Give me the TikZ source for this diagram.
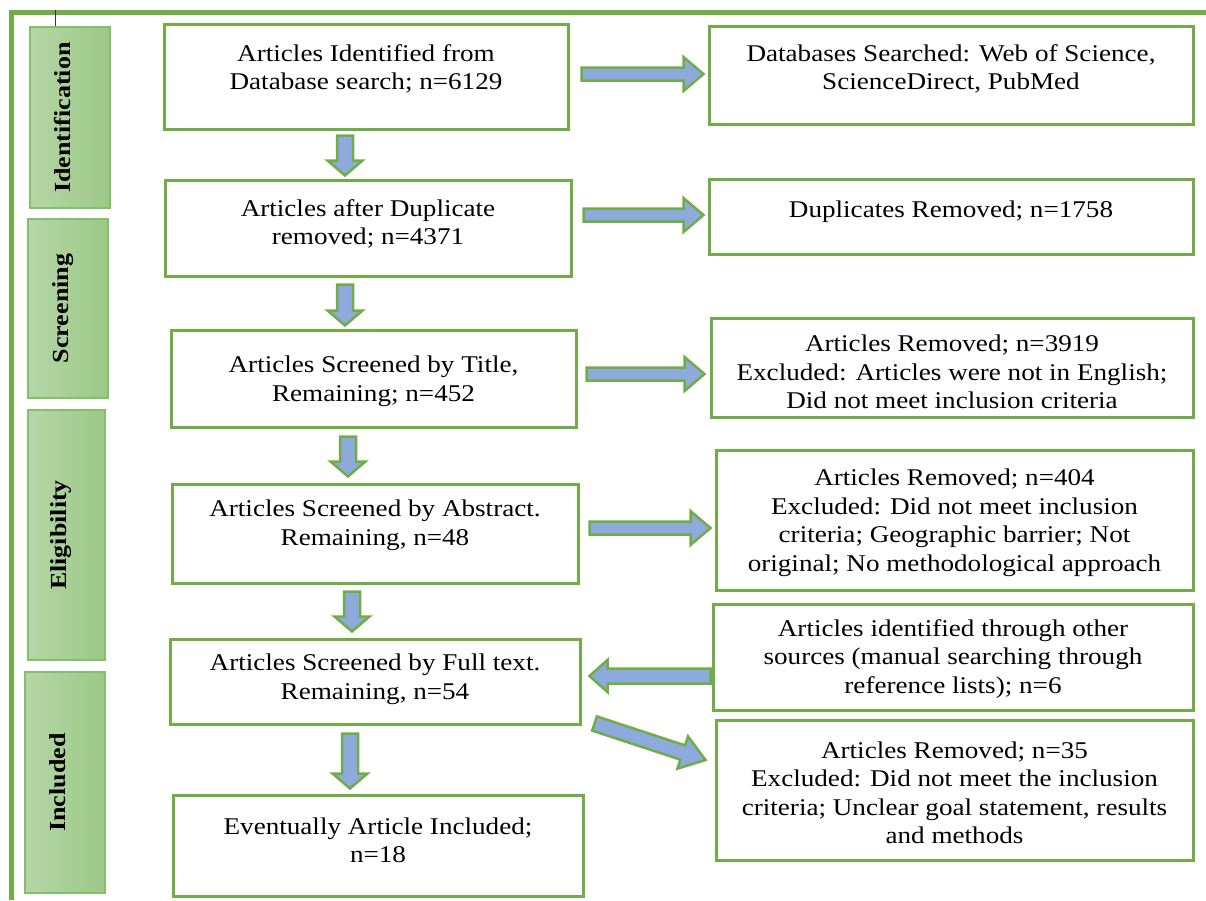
\documentclass[tikz,border=0pt]{standalone}
\usepackage{fontspec}
\setmainfont[FakeStretch=1.13]{Liberation Serif}
\usetikzlibrary{calc}
\definecolor{pgreen}{HTML}{70AD47}
\definecolor{pblue}{HTML}{8EA9DB}
\definecolor{lgreenA}{HTML}{B5D6A7}
\definecolor{lgreenB}{HTML}{9CC886}
\definecolor{lborder}{HTML}{84BF6B}
\definecolor{tickc}{HTML}{3A3040}
% #1 body half width, #2 head half width, #3 head length, #4 start, #5 end
\newcommand\blockarrow[5]{%
  \coordinate (ba-a) at #4; \coordinate (ba-b) at #5;
  \coordinate (ba-n) at ($(ba-b)!#3!(ba-a)$);
  \draw[flowarrow] ($(ba-a)!#1!90:(ba-b)$) -- ($(ba-n)!#1!90:(ba-b)$) -- ($(ba-n)!#2!90:(ba-b)$) -- (ba-b) -- ($(ba-n)!#2!-90:(ba-b)$) -- ($(ba-n)!#1!-90:(ba-b)$) -- ($(ba-a)!#1!-90:(ba-b)$) -- cycle;}
\tikzset{
  flowbox/.style={draw=pgreen, line width=3pt, fill=white, inner sep=0pt},
  txt/.style={align=center, font=\fontsize{24}{28.5}\selectfont, inner sep=0pt, yshift=-2.5pt},
  sidebox/.style={draw=lborder, line width=1.5pt, left color=lgreenA, right color=lgreenB, inner sep=0pt},
  sidetxt/.style={rotate=90, anchor=base, font=\fontsize{23}{27}\selectfont\bfseries, inner sep=0pt},
  flowarrow/.style={draw=pgreen, fill=pblue, line width=2.5pt, line join=miter},
  outerframe/.style={draw=pgreen, line width=5pt},
}
\begin{document}
\begin{tikzpicture}[x=1pt, y=-1pt]
\useasboundingbox (0,0) rectangle (1206,900);
% frame
\draw[outerframe] (11,900) -- (11,12.5) -- (1206,12.5);
\draw[tickc, line width=1.5pt] (55.5,10) -- (55.5,35);
% side labels
\node[sidebox, minimum width=80pt, minimum height=181pt] (s1) at (70,117.5) {};
\node[sidebox, minimum width=80pt, minimum height=179pt] (s2) at (68,308.5) {};
\node[sidebox, minimum width=77pt, minimum height=250pt] (s3) at (66.5,535) {};
\node[sidebox, minimum width=80pt, minimum height=221pt] (s4) at (65,782.5) {};
\node[sidetxt] (s1t) at (s1.center) {Identification};
\node[sidetxt] (s2t) at (s2.center) {Screening};
\node[sidetxt] (s3t) at (s3.center) {Eligibility};
\node[sidetxt] (s4t) at (s4.center) {Included};
% left boxes
\node[flowbox, minimum width=404pt, minimum height=105pt] (b1) at (366,76.5) {};
\node[flowbox, minimum width=406pt, minimum height=96pt] (b2) at (368,228) {};
\node[flowbox, minimum width=405pt, minimum height=97pt] (b3) at (373.5,378.5) {};
\node[flowbox, minimum width=406pt, minimum height=99pt] (b4) at (375,533.5) {};
\node[flowbox, minimum width=410pt, minimum height=85pt] (b5) at (375,681.5) {};
\node[flowbox, minimum width=410pt, minimum height=101pt] (b6) at (378,845.5) {};
\node[txt] (b1t) at (366,66.5) {Articles Identified from\\Database search; n=6129};
\node[txt] (b2t) at (368,221.5) {Articles after Duplicate\\removed; n=4371};
\node[txt] (b3t) at (373.5,379) {Articles Screened by Title,\\Remaining; n=452};
\node[txt] (b4t) at (375,523) {Articles Screened by Abstract.\\Remaining, n=48};
\node[txt] (b5t) at (375,677) {Articles Screened by Full text.\\Remaining, n=54};
\node[txt] (b6t) at (378,838) {Eventually Article Included;\\n=18};
% right boxes
\node[flowbox, minimum width=484pt, minimum height=98pt] (r1) at (951,75) {};
\node[flowbox, minimum width=484pt, minimum height=75pt] (r2) at (951,216.5) {};
\node[flowbox, minimum width=482pt, minimum height=99pt] (r3) at (952,367.5) {};
\node[flowbox, minimum width=477pt, minimum height=140pt] (r4) at (954.5,520) {};
\node[flowbox, minimum width=480pt, minimum height=106pt] (r5) at (953,657) {};
\node[flowbox, minimum width=477pt, minimum height=140pt] (r6) at (954.5,790) {};
\node[txt] (r1t) at (951,66.5) {Databases Searched: Web of Science,\\ScienceDirect, PubMed};
\node[txt] (r2t) at (951,209) {Duplicates Removed; n=1758};
\node[txt] (r3t) at (952,369.5) {Articles Removed; n=3919\\Excluded: Articles were not in English;\\Did not meet inclusion criteria};
\node[txt] (r4t) at (954.5,520.5) {Articles Removed; n=404\\Excluded: Did not meet inclusion\\criteria; Geographic barrier; Not\\original; No methodological approach};
\node[txt] (r5t) at (953,656.5) {Articles identified through other\\sources (manual searching through\\reference lists); n=6};
\node[txt] (r6t) at (954.5,790.5) {Articles Removed; n=35\\Excluded: Did not meet the inclusion\\criteria; Unclear goal statement, results\\and methods};
% horizontal arrows
\blockarrow{6.5pt}{17pt}{20pt}{($(b1.east)+(12,-2.5)$)}{($(r1.west)+(-4,-1)$)}
\blockarrow{6.5pt}{17pt}{20pt}{($(b2.east)+(11,-13)$)}{($(r2.west)+(-4,-1.5)$)}
\blockarrow{6.5pt}{17pt}{20pt}{($(b3.east)+(9,-4.5)$)}{($(r3.west)+(-5,6.5)$)}
\blockarrow{6.5pt}{17pt}{20pt}{($(b4.east)+(10,-5.5)$)}{($(r4.west)+(-4,8)$)}
\blockarrow{7.5pt}{16pt}{18pt}{($(r5.west)+(-1,19)$)}{($(b5.east)+(8,-5.5)$)}
\blockarrow{7.5pt}{17pt}{24pt}{($(b5.south east)+(13,-2)$)}{($(r6.west)+(-9,-30)$)}
% vertical arrows
\blockarrow{8pt}{17.5pt}{15pt}{($(b1.south)+(-21,5)$)}{($(b2.north)+(-23,-3)$)}
\blockarrow{8pt}{17.5pt}{15pt}{($(b2.south)+(-23,7)$)}{($(b3.north)+(-28.5,-3)$)}
\blockarrow{8pt}{17.5pt}{15pt}{($(b3.south)+(-25.5,8)$)}{($(b4.north)+(-27,-6)$)}
\blockarrow{8pt}{17.5pt}{15pt}{($(b4.south)+(-23,7)$)}{($(b5.north)+(-23,-6)$)}
\blockarrow{8pt}{17.5pt}{15pt}{($(b5.south)+(-25,8)$)}{($(b6.north)+(-28,-5)$)}
\end{tikzpicture}
\end{document}
